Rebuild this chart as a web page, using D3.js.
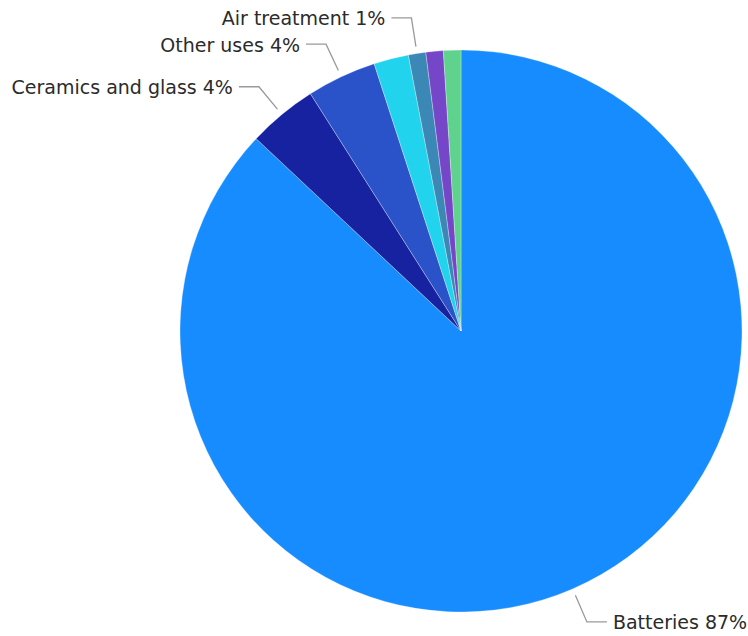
<!DOCTYPE html>
<html>
<head>
<meta charset="utf-8">
<script src="https://cdn.jsdelivr.net/npm/d3@7"></script>
<style>
    body { margin: 0; background: #fff; }
    text { font-family: "DejaVu Sans", sans-serif; font-size: 19px; fill: #2b2b2b; }
</style>
</head>
<body>
<div id="container"></div>
<script>
// lithium end uses, clockwise from 12 o'clock
const categories = ["Batteries", "Ceramics and glass", "Other uses", "Lubricating greases",
                    "Air treatment", "Medical", "Continuous casting mold flux powders"];
const values = [87, 4, 4, 2, 1, 1, 1];
const colors = ["#168cff", "#1622a0", "#2a52c9", "#22d3ee", "#3b87b6", "#7547c8", "#5fd38e"];
// only these got a label in the original
const labelled = ["Batteries", "Ceramics and glass", "Other uses", "Air treatment"];

const w = 748, h = 636;
const cx = 461, cy = 331, radius = 281;

const svg = d3.select("#container")
    .append("svg")
    .attr("width", w)
    .attr("height", h);

const data = categories.map((c, i) => ({name: c, value: values[i], color: colors[i]}));

const pie = d3.pie()
    .sort(null)
    .value((d) => d.value);

const arcs = pie(data);

const arc = d3.arc().innerRadius(0).outerRadius(radius);
const lineStart = d3.arc().innerRadius(radius + 7).outerRadius(radius + 7);
const lineElbow = d3.arc().innerRadius(radius + 36).outerRadius(radius + 36);

const g = svg.append("g")
    .attr("transform", "translate(" + cx + "," + cy + ")");

g.selectAll("path.slice")
    .data(arcs)
    .enter()
    .append("path")
    .attr("class", "slice")
    .attr("d", arc)
    .attr("fill", (d) => d.data.color)
    .attr("stroke", "#fff")
    .attr("stroke-width", 0.3);

const lab = g.selectAll("g.label")
    .data(arcs.filter((d) => labelled.indexOf(d.data.name) >= 0))
    .enter()
    .append("g")
    .attr("class", "label");

function midAngle(d) { return (d.startAngle + d.endAngle) / 2; }

lab.append("polyline")
    .attr("fill", "none")
    .attr("stroke", "#999")
    .attr("stroke-width", 1.3)
    .attr("points", (d) => {
        const a = lineStart.centroid(d);
        const b = lineElbow.centroid(d);
        const side = midAngle(d) < Math.PI ? 1 : -1;
        const c = [b[0] + side * 20, b[1]];
        return [a, b, c].map((p) => p.join(",")).join(" ");
    });

lab.append("text")
    .attr("dominant-baseline", "middle")
    .attr("text-anchor", (d) => midAngle(d) < Math.PI ? "start" : "end")
    .attr("x", (d) => {
        const b = lineElbow.centroid(d);
        const side = midAngle(d) < Math.PI ? 1 : -1;
        return b[0] + side * 26;
    })
    .attr("y", (d) => lineElbow.centroid(d)[1])
    .attr("dy", 2)
    .text((d) => d.data.name + " " + Math.round(d.data.value) + "%");
</script>
</body>
</html>
